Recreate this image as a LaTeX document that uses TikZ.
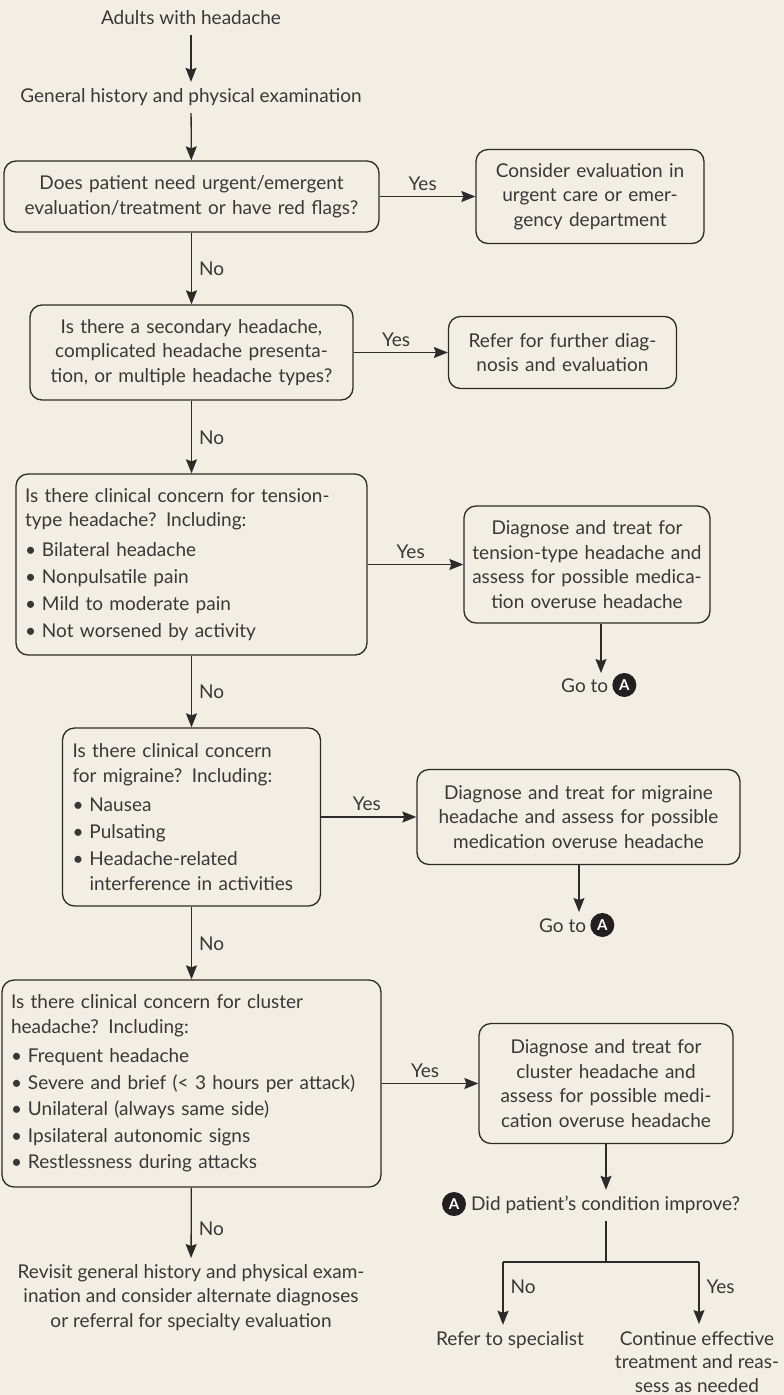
\documentclass[tikz,border=0pt]{standalone}
\usepackage{fontspec}
\setmainfont{Lato}
\usetikzlibrary{arrows.meta,calc}
\definecolor{bg}{HTML}{F3EEE3}
\definecolor{tc}{HTML}{383838}
\definecolor{lc}{HTML}{2B2B2B}
\definecolor{cA}{HTML}{231F20}
\newcommand\bul[1]{\makebox[17pt][l]{\textbullet}#1}
\newcommand\indt{\hspace*{17pt}}
\begin{document}
\begin{tikzpicture}[x=1pt,y=-1pt,
  font=\fontsize{19}{24.5}\selectfont,
  box/.style={draw=lc, line width=1.3pt, rounded corners=12pt, inner sep=0pt, text=tc, align=center},
  lbox/.style={box, align=left},
  free/.style={text=tc, inner xsep=0pt, inner ysep=7pt, text height=13pt, text depth=4pt},
  multi/.style={text=tc, inner sep=0pt, align=center},
  lab/.style={text=tc, inner sep=0pt},
  line/.style={draw=lc, line width=1.3pt},
  arr/.style={line, -{Stealth[length=14pt,width=11pt,inset=2pt]}},
  circA/.style={circle, fill=cA, text=white, inner sep=0pt, minimum size=24pt, font=\fontsize{15}{15}\selectfont\bfseries}
]
\fill[bg] (0,0) rectangle (784,1395);
\useasboundingbox (0,0) rectangle (784,1395);

% top texts
\node[free, anchor=base] (t1) at (191,24) {Adults with headache};
\node[free, anchor=base] (t2) at (191,102) {General history and physical examination};

% boxes
\node[box, minimum width=375pt, minimum height=71pt, text width=360pt] (b1) at (191.5,196.5)
  {Does patient need urgent/emergent\\evaluation/treatment or have red flags?};
\node[box, minimum width=228pt, minimum height=94pt, text width=220pt] (b1r) at (590,196.5)
  {Consider evaluation in\\urgent care or emer-\\gency department};

\node[box, minimum width=323pt, minimum height=95pt, text width=315pt] (b2) at (191.5,352.5)
  {Is there a secondary headache,\\complicated headache presenta-\\tion, or multiple headache types?};
\node[box, minimum width=228pt, minimum height=72pt, text width=220pt] (b2r) at (562.5,352.5)
  {Refer for further diag-\\nosis and evaluation};

\node[lbox, minimum width=351pt, minimum height=181pt, text width=333pt] (b3) at (191.5,564.5)
  {Is there clinical concern for tension-\\type headache? Including:\\[5pt]
   \bul{Bilateral headache}\\[2.5pt]
   \bul{Nonpulsatile pain}\\[2.5pt]
   \bul{Mild to moderate pain}\\[2.5pt]
   \bul{Not worsened by activity}};
\node[box, minimum width=246pt, minimum height=117pt, text width=238pt] (b3r) at (587,564.5)
  {Diagnose and treat for\\tension-type headache and\\assess for possible medica-\\tion overuse headache};

\node[lbox, minimum width=258pt, minimum height=178pt, text width=238pt] (b4) at (191.5,817)
  {Is there clinical concern\\for migraine? Including:\\[5pt]
   \bul{Nausea}\\[2.5pt]
   \bul{Pulsating}\\[2.5pt]
   \bul{Headache-related}\\
   \indt interference in activities};
\node[box, minimum width=323pt, minimum height=95pt, text width=315pt] (b4r) at (578.5,817)
  {Diagnose and treat for migraine\\headache and assess for possible\\medication overuse headache};

\node[lbox, minimum width=379pt, minimum height=207pt, text width=361pt] (b5) at (191.5,1083.5)
  {Is there clinical concern for cluster\\headache? Including:\\[5pt]
   \bul{Frequent headache}\\[2pt]
   \bul{Severe and brief (< 3 hours per attack)}\\[2pt]
   \bul{Unilateral (always same side)}\\[2pt]
   \bul{Ipsilateral autonomic signs}\\[2pt]
   \bul{Restlessness during attacks}};
\node[box, minimum width=254pt, minimum height=120pt, text width=246pt] (b5r) at (606,1083.5)
  {Diagnose and treat for\\cluster headache and\\assess for possible medi-\\cation overuse headache};

% go to A
\node[free, anchor=base west] (g1) at (561,692) {Go to};
\node[circA] (a1) at ($(g1.base east)+(16,-7)$) {A};
\coordinate (g1top) at (601,673);
\node[free, anchor=base west] (g2) at (539,932) {Go to};
\node[circA] (a2) at ($(g2.base east)+(16,-7)$) {A};
\coordinate (g2top) at (579,912);

% improvement question
\node[circA] (aq) at (454,1204) {A};
\node[free, anchor=base west] (q) at (471,1210) {Did patient’s condition improve?};
\coordinate (split) at (606,1262);
\coordinate (sl) at (503,1262);
\coordinate (sr) at (699,1262);
\node[free, anchor=base] (ref) at (510,1345) {Refer to specialist};
\node[multi, anchor=north, font=\fontsize{19}{23.5}\selectfont] (cont) at (697,1331)
  {Continue effective\\treatment and reas-\\sess as needed};
\node[multi, anchor=north] (rev) at (191,1264)
  {Revisit general history and physical exam-\\ination and consider alternate diagnoses\\or referral for specialty evaluation};

% connectors
\draw[arr] (t1) -- (t2);
\draw[arr] (t2) -- (b1);
\draw[arr] (b1.east) -- node[lab, anchor=base, pos=0.45, yshift=6.5pt] {Yes} (b1r.west |- b1.east);
\draw[arr] (b1) -- node[lab, anchor=base west, pos=0.6, xshift=7pt] {No} (b2);
\draw[arr] (b2.east) -- node[lab, anchor=base, pos=0.45, yshift=6.5pt] {Yes} (b2r.west |- b2.east);
\draw[arr] (b2) -- node[lab, anchor=base west, pos=0.6, xshift=7pt] {No} (b3);
\draw[arr] (b3.east) -- node[lab, anchor=base, pos=0.45, yshift=6.5pt] {Yes} (b3r.west |- b3.east);
\draw[arr] (b3r.south -| g1top) -- (g1top);
\draw[arr] (b3) -- node[lab, anchor=base west, pos=0.6, xshift=7pt] {No} (b4);
\draw[arr] (b4.east) -- node[lab, anchor=base, pos=0.48, yshift=6.5pt] {Yes} (b4r.west |- b4.east);
\draw[arr] (b4r.south -| g2top) -- (g2top);
\draw[arr] (b4) -- node[lab, anchor=base west, pos=0.6, xshift=7pt] {No} (b5);
\draw[arr] (b5.east) -- node[lab, anchor=base, pos=0.45, yshift=6.5pt] {Yes} (b5r.west |- b5.east);
\draw[arr, shorten >=6pt] (b5) -- node[lab, anchor=base west, pos=0.62, xshift=7pt] {No} (rev);
\draw[arr] (b5r.south) -- (b5r.south |- q.north);
\draw[line] (q.south -| split) -- (split);
\draw[line] (sl) -- (sr);
\draw[arr] (sl) -- node[lab, anchor=base west, pos=0.5, xshift=7pt] {No} (sl |- ref.north);
\draw[arr, shorten >=7pt] (sr) -- node[lab, anchor=base west, pos=0.45, xshift=7pt] {Yes} (sr |- cont.north);
\end{tikzpicture}
\end{document}
